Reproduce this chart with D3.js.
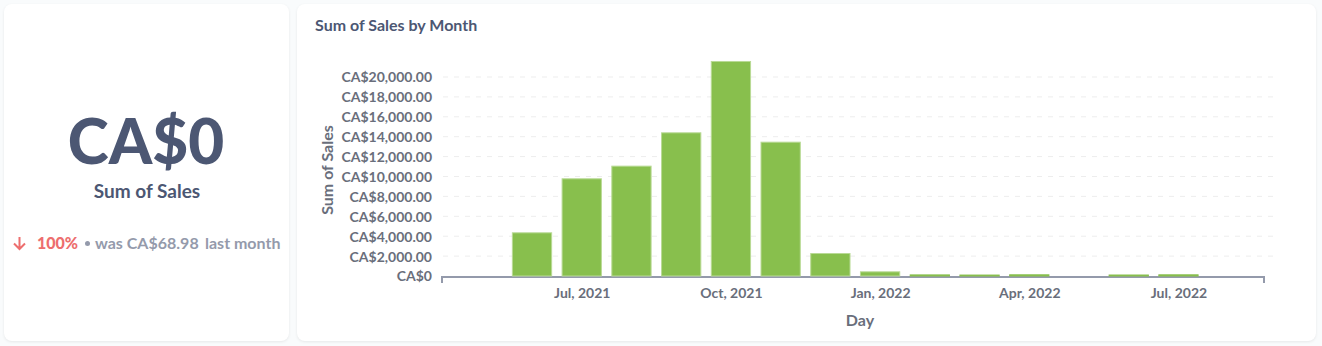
<!DOCTYPE html>
<html>
<meta charset="utf-8" />
<script src="https://cdn.jsdelivr.net/npm/d3@7"></script>
<style>
  html, body { margin: 0; padding: 0; background: #f9fbfc; font-family: Lato, sans-serif; }
  .card { position: absolute; background: #fff; border-radius: 8px; box-shadow: 0 1px 3px rgba(0,0,0,0.08); }
  #scalar { left: 4px; top: 4px; width: 285px; height: 337px; }
  #chart { left: 297px; top: 4px; width: 1019px; height: 337px; }
  svg { display: block; }
  .tick text { font-family: Lato, sans-serif; font-weight: 700; font-size: 14px; fill: #696e7b; }
</style>
<body>
<div class="card" id="scalar"></div>
<div class="card" id="chart"></div>
<script>
// monthly sales, Jun 2021 .. Jul 2022 (May 2022 has no row)
var months = ['2021-06', '2021-07', '2021-08', '2021-09', '2021-10', '2021-11', '2021-12',
              '2022-01', '2022-02', '2022-03', '2022-04', '2022-05', '2022-06', '2022-07'];
var sales = [4290, 9720, 10990, 14340, 21510, 13400, 2210, 370, 60, 45, 70, null, 50, 68.98];
var yTicks = [0, 2000, 4000, 6000, 8000, 10000, 12000, 14000, 16000, 18000, 20000];
var xTickMonths = ['2021-07', '2021-10', '2022-01', '2022-04', '2022-07'];

var scalarValue = 'CA$0';
var scalarTitle = 'Sum of Sales';
var changePct = '100%';
var previous = 'was CA$68.98';

var parseMonth = d3.timeParse('%Y-%m');
var fmtMonth = d3.timeFormat('%b, %Y');
var data = months.map(function (m, i) { return { month: m, i: i, value: sales[i] }; });

// ---- scalar card (page coords, card at 4,4)
var s = d3.select('#scalar').append('svg').attr('width', 285).attr('height', 337)
  .append('g').attr('transform', 'translate(-4,-4)');
s.append('text').attr('x', 146).attr('y', 164).attr('text-anchor', 'middle')
  .style('font-size', '62px').style('font-weight', 900).style('fill', '#4c5773')
  .text(scalarValue);
s.append('text').attr('x', 147).attr('y', 198).attr('text-anchor', 'middle')
  .style('font-size', '19px').style('font-weight', 700).style('fill', '#4c5773')
  .text(scalarTitle);
// down arrow icon
s.append('path').attr('d', 'M19.5,237V249M14,243.5L19.5,249L25,243.5')
  .attr('fill', 'none').attr('stroke', '#ed6e6e').attr('stroke-width', 2);
s.append('text').attr('x', 37).attr('y', 249)
  .style('font-size', '16px').style('font-weight', 900).style('fill', '#ed6e6e').text(changePct);
s.append('circle').attr('cx', 87.5).attr('cy', 243.5).attr('r', 2.5).attr('fill', '#949aab');
s.append('text').attr('x', 95).attr('y', 249)
  .style('font-size', '16px').style('font-weight', 700).style('fill', '#949aab').text(previous);
s.append('text').attr('x', 205).attr('y', 249)
  .style('font-size', '16px').style('font-weight', 700).style('fill', '#949aab').text('last month');

// ---- bar chart
var W = 1019, H = 337;
var svg = d3.select('#chart').append('svg').attr('width', W).attr('height', H);
var g = svg.append('g').attr('transform', 'translate(-297,-4)'); // page coords

g.append('text').attr('x', 315).attr('y', 31)
  .style('font-size', '16px').style('font-weight', 700).style('fill', '#4c5773')
  .text('Sum of Sales by Month');

var x = d3.scaleLinear().domain([-1.81, months.length + 0.72]).range([442, 1264]);
var y = d3.scaleLinear().domain([0, 20000]).range([276, 77]);
var step = x(1) - x(0);
var bw = step * 0.79;

// grid
g.append('g').selectAll('line').data(yTicks.slice(1)).enter().append('line')
  .attr('x1', 443).attr('x2', 1277)
  .attr('y1', function (d) { return y(d); }).attr('y2', function (d) { return y(d); })
  .attr('stroke', '#ededed').attr('stroke-dasharray', '5,6');

var yAxis = g.append('g').attr('transform', 'translate(432,0)')
  .call(d3.axisLeft(y).tickValues(yTicks).tickSize(0).tickPadding(0)
    .tickFormat(function (d) { return d === 0 ? 'CA$0' : 'CA$' + d3.format(',.2f')(d); }));
yAxis.select('.domain').remove();
yAxis.selectAll('text').attr('dy', '0.35em');

// x axis
var xAxis = g.append('g').attr('transform', 'translate(0,277)')
  .call(d3.axisBottom(x)
    .tickValues(xTickMonths.map(function (m) { return months.indexOf(m); }))
    .tickSize(0).tickPadding(11)
    .tickFormat(function (i) { return fmtMonth(parseMonth(months[i])); }));
xAxis.select('.domain').attr('d', 'M442,6V0H1264V6').attr('stroke', '#949aab')
  .attr('stroke-width', 2).attr('fill', 'none');

g.append('g').selectAll('rect').data(data.filter(function (d) { return d.value != null; }))
  .enter().append('rect')
  .attr('x', function (d) { return x(d.i) - bw / 2; })
  .attr('width', bw)
  .attr('y', function (d) { return y(d.value) - 0.5; })
  .attr('height', function (d) { return y(0) - y(d.value) + 0.5; })
  .attr('fill', '#88bf4d')
  .attr('stroke', function (d) { return d.value > 200 ? '#b9da95' : '#88bf4d'; })
  .attr('stroke-width', 1);

g.append('text').attr('x', 327).attr('y', 170).attr('text-anchor', 'middle')
  .attr('transform', 'rotate(-90,327,170)').attr('dy', '0.35em')
  .style('font-size', '16px').style('font-weight', 700).style('fill', '#696e7b')
  .text('Sum of Sales');
g.append('text').attr('x', 860).attr('y', 326).attr('text-anchor', 'middle')
  .style('font-size', '16px').style('font-weight', 700).style('fill', '#696e7b')
  .text('Day');
</script>
</body>
</html>
